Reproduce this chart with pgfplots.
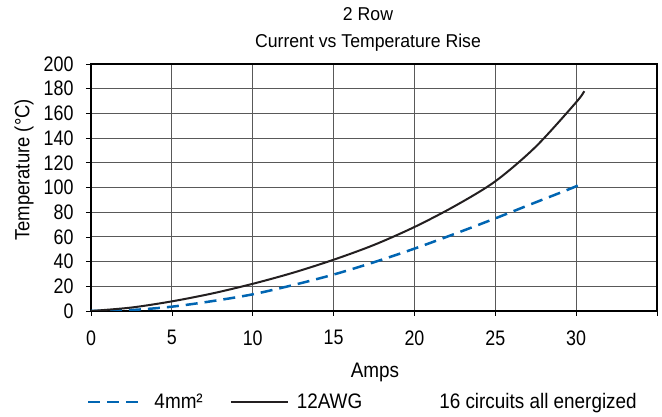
\documentclass[border=0pt]{standalone}
\usepackage{pgfplots}
\pgfplotsset{compat=1.18}
\usepackage{fontspec}
\setmainfont{Liberation Sans}
\newfontfamily\tickfont{Liberation Sans}[FakeStretch=0.85]
\newfontfamily\labfont{Liberation Sans}[FakeStretch=0.9]
\newfontfamily\titfont{Liberation Sans}[FakeStretch=0.95]
\definecolor{myblue}{RGB}{0,101,178}
\definecolor{curveblack}{RGB}{35,31,32}
\begin{document}
\begin{tikzpicture}
\begin{axis}[
  name=ax,
  at={(0pt,0pt)}, anchor=south west,
  scale only axis, width=566pt, height=247pt,
  xmin=0, xmax=35, ymin=0, ymax=200,
  xtick={0,5,...,35}, xticklabels={0,5,10,15,20,25,30,},
  ytick={0,20,...,200},
  tick pos=left, tick align=outside, major tick length=5pt,
  tick style={black, line width=0.7pt},
  grid=major, grid style={black!65, line width=0.8pt},
  axis line style={line width=2pt},
  /pgf/number format/assume math mode=true,
  tick label style={font=\tickfont\fontsize{21}{24}\selectfont},
  xticklabel style={yshift=-11pt},
  yticklabel style={xshift=-9pt},
  xlabel={Amps},
  xlabel style={font=\labfont\fontsize{21}{24}\selectfont, at={(axis description cs:0.5017,0)}, anchor=base, yshift=-66.5pt},
  ylabel={Temperature (°C)},
  ylabel style={font=\labfont\fontsize{20.5}{24}\selectfont, at={(axis description cs:-0.1184,0.571)}, anchor=center},
  title={2 Row\\Current vs Temperature Rise},
  title style={font=\titfont\fontsize{18.6}{27}\selectfont, align=center, inner sep=0pt, at={(axis description cs:0.4894,1)}, anchor=south, yshift=6pt},
  legend columns=3,
  legend style={draw=none, fill=none, inner sep=0pt, outer sep=0pt,
    at={(axis description cs:-0.00707,-0.3684)}, anchor=west,
    font=\labfont\fontsize{21}{24}\selectfont,
    /tikz/every even column/.append style={column sep=25pt},
    /tikz/every odd column/.append style={column sep=6pt}},
  legend image code/.code={\draw[#1] (0pt,0pt) -- (57pt,0pt);},
]
\addplot[myblue, line width=2.5pt, dash pattern=on 12pt off 7pt, smooth, tension=0.5] coordinates {
 (0,0) (2.5,0.8) (5,3.5) (7.5,8) (10,13.5) (12.5,21) (15,29.5) (17.5,39.5)
 (20,50.5) (22.5,62.5) (25,75) (27.5,88) (30,101) (30.3,104.5)};
\addlegendentry{4mm²}
\addplot[curveblack, line width=2pt, smooth, tension=0.5] coordinates {
 (0,0) (2.5,2.8) (5,7.8) (7.5,14.2) (10,22) (12.5,31) (15,41.5) (17.5,53.5)
 (20,68) (22.5,85) (25,105) (27.5,133) (30,169) (30.5,178)};
\addlegendentry{12AWG}
\addlegendimage{empty legend}
\addlegendentry{\hspace*{42pt}16 circuits all energized}
\end{axis}
\pgfresetboundingbox
\useasboundingbox (-91pt,-106pt) rectangle (571pt,311pt);
\end{tikzpicture}
\end{document}
